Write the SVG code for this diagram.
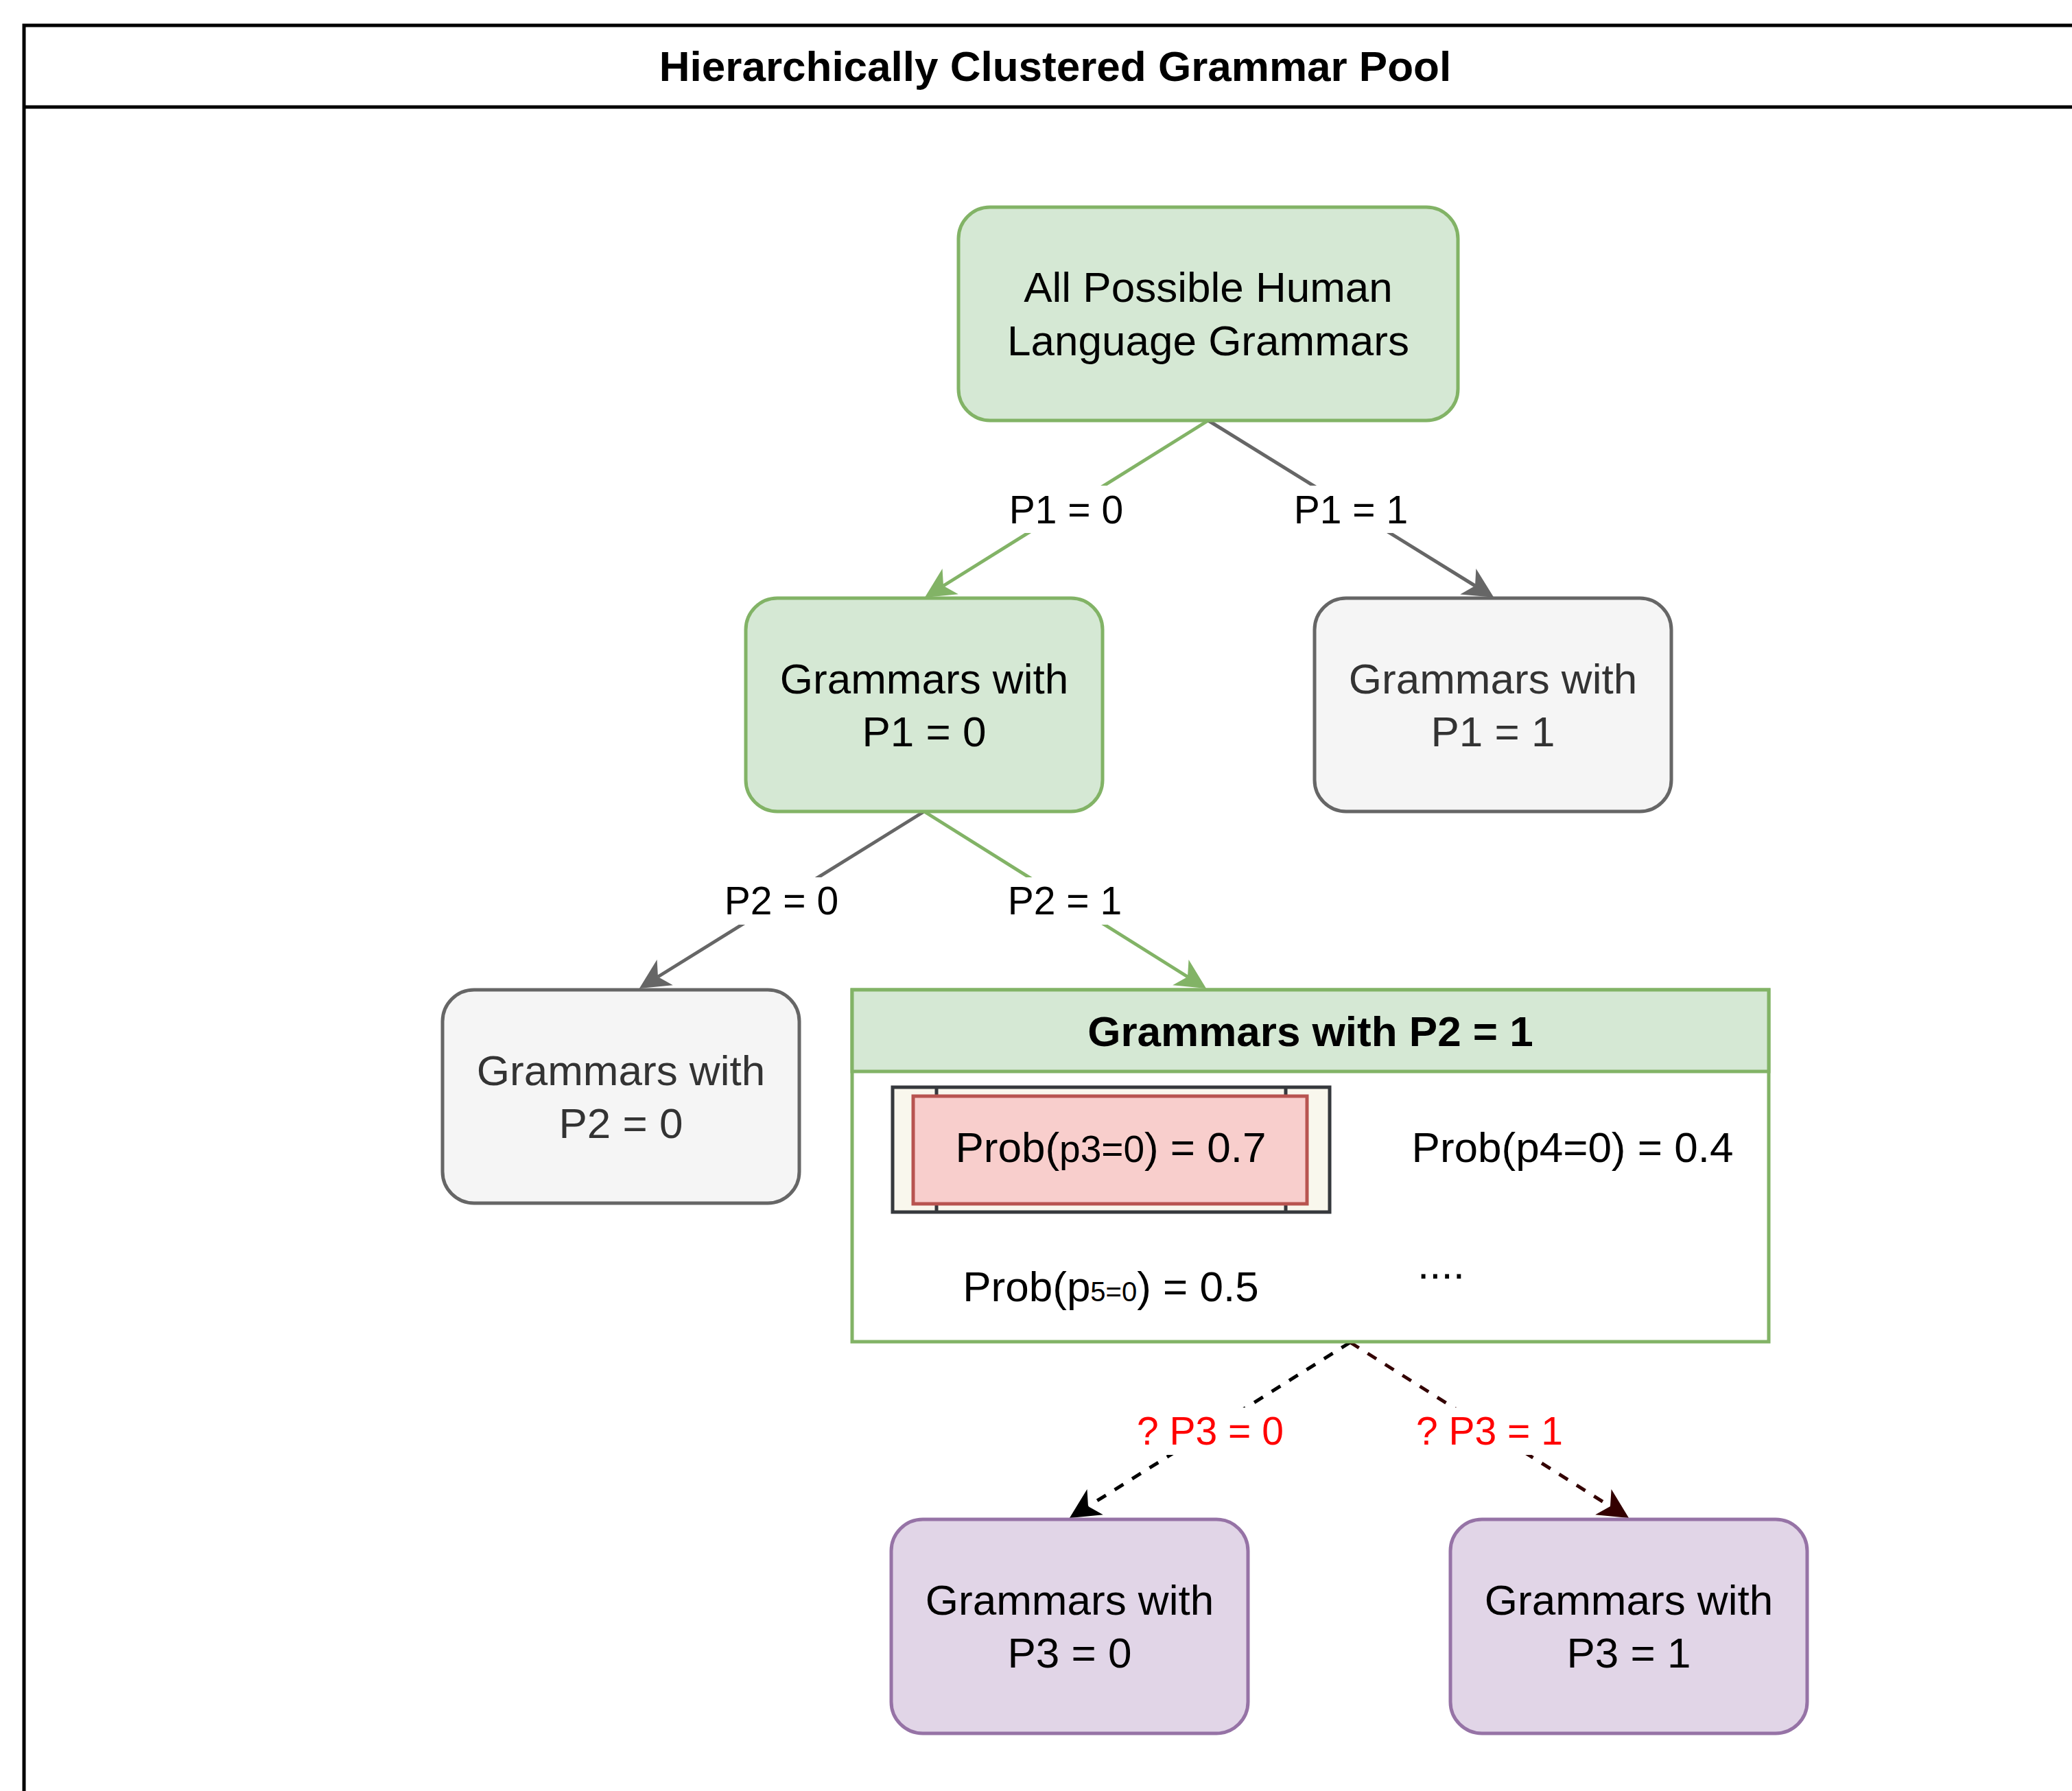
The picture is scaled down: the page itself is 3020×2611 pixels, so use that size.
<svg xmlns="http://www.w3.org/2000/svg" width="3020" height="2611" viewBox="0 0 3020 2611">
<defs>
<style>
text{font-family:"Liberation Sans",Arial,Helvetica,sans-serif;}
.t{font-size:62px;text-anchor:middle;fill:#000000}
.tl{font-size:62px;fill:#000000}
.g{fill:#333333}
.b{font-weight:bold}
.lbl{font-size:57px;text-anchor:middle;fill:#000000}
.red{fill:#ff0000}
.lb{fill:#ffffff;stroke:none}
.green{fill:#d5e8d4;stroke:#82b366;stroke-width:5}
.grey{fill:#f5f5f5;stroke:#666666;stroke-width:5}
.purple{fill:#e1d5e7;stroke:#9673a6;stroke-width:5}
.e{fill:none;stroke-width:5}
.dash{stroke-dasharray:15 15}
</style>
<marker id="aG" markerUnits="userSpaceOnUse" viewBox="0 -23 46 46" refX="12" refY="0" markerWidth="46" markerHeight="46" orient="auto"><path d="M0,-22 L44,0 L0,22 L12,0 Z" fill="#82b366"/></marker>
<marker id="aY" markerUnits="userSpaceOnUse" viewBox="0 -23 46 46" refX="12" refY="0" markerWidth="46" markerHeight="46" orient="auto"><path d="M0,-22 L44,0 L0,22 L12,0 Z" fill="#666666"/></marker>
<marker id="aK" markerUnits="userSpaceOnUse" viewBox="0 -23 46 46" refX="12" refY="0" markerWidth="46" markerHeight="46" orient="auto"><path d="M0,-22 L44,0 L0,22 L12,0 Z" fill="#000000"/></marker>
<marker id="aR" markerUnits="userSpaceOnUse" viewBox="0 -23 46 46" refX="12" refY="0" markerWidth="46" markerHeight="46" orient="auto"><path d="M0,-22 L44,0 L0,22 L12,0 Z" fill="#330000"/></marker>
</defs>
<rect x="0" y="0" width="3020" height="2611" fill="#ffffff"/>
<g id="pool">
<rect x="35" y="37" width="3006" height="2620" fill="#ffffff" stroke="#000000" stroke-width="5"/>
<line x1="35" y1="156" x2="3041" y2="156" stroke="#000000" stroke-width="5"/>
<text class="t b" x="1538" y="118">Hierarchically Clustered Grammar Pool</text>
</g>
<g id="connectors">
<path class="e" stroke="#82b366" d="M1761,613 L1375,854" marker-end="url(#aG)"/>
<path class="e" stroke="#666666" d="M1761,613 L2150,854" marker-end="url(#aY)"/>
<path class="e" stroke="#666666" d="M1347,1183 L959,1424" marker-end="url(#aY)"/>
<path class="e" stroke="#82b366" d="M1347,1183 L1731,1424" marker-end="url(#aG)"/>
<path class="e dash" stroke="#000000" d="M1968,1957 L1586,2196" marker-end="url(#aK)"/>
<path class="e dash" stroke="#330000" d="M1968,1957 L2347,2196" marker-end="url(#aR)"/>
<g id="labels">
<rect class="lb" x="1468" y="708" width="172" height="69"/>
<text class="lbl" x="1554" y="763">P1 = 0</text>
<rect class="lb" x="1883" y="708" width="172" height="69"/>
<text class="lbl" x="1969" y="763">P1 = 1</text>
<rect class="lb" x="1053" y="1279" width="172" height="69"/>
<text class="lbl" x="1139" y="1333">P2 = 0</text>
<rect class="lb" x="1466" y="1279" width="172" height="69"/>
<text class="lbl" x="1552" y="1333">P2 = 1</text>
<rect class="lb" x="1652" y="2052" width="224" height="69"/>
<text class="lbl red" x="1764" y="2106">? P3 = 0</text>
<rect class="lb" x="2059" y="2052" width="224" height="69"/>
<text class="lbl red" x="2171" y="2106">? P3 = 1</text>
</g>
</g>
<g id="root">
<rect class="green" x="1397" y="302" width="728" height="311" rx="46" ry="46"/>
<text class="t" x="1761" y="440">All Possible Human</text>
<text class="t" x="1761" y="518">Language Grammars</text>
</g>
<g id="p1zero">
<rect class="green" x="1087" y="872" width="520" height="311" rx="46" ry="46"/>
<text class="t" x="1347" y="1011">Grammars with</text>
<text class="t" x="1347" y="1088">P1 = 0</text>
</g>
<g id="p1one">
<rect class="grey" x="1916" y="872" width="520" height="311" rx="46" ry="46"/>
<text class="t g" x="2176" y="1011">Grammars with</text>
<text class="t g" x="2176" y="1088">P1 = 1</text>
</g>
<g id="p2zero">
<rect class="grey" x="645" y="1443" width="520" height="311" rx="46" ry="46"/>
<text class="t g" x="905" y="1582">Grammars with</text>
<text class="t g" x="905" y="1659">P2 = 0</text>
</g>
<g id="p2one">
<rect x="1242" y="1443" width="1336" height="513" fill="#ffffff" stroke="#82b366" stroke-width="5"/>
<rect x="1242" y="1443" width="1336" height="119" fill="#d5e8d4" stroke="#82b366" stroke-width="5"/>
<text class="t b" x="1910" y="1525">Grammars with P2 = 1</text>
<g id="prob3">
<rect x="1301" y="1585" width="637" height="182" fill="#f9f7ed" stroke="#36393d" stroke-width="5"/>
<line x1="1365" y1="1585" x2="1365" y2="1767" stroke="#36393d" stroke-width="5"/>
<line x1="1874" y1="1585" x2="1874" y2="1767" stroke="#36393d" stroke-width="5"/>
<rect x="1331" y="1598" width="574" height="157" fill="#f8cecc" stroke="#b85450" stroke-width="5"/>
<text class="t" x="1619" y="1694">Prob(<tspan font-size="55">p3=0</tspan>) = 0.7</text>
</g>
<text class="t" x="2292" y="1694">Prob(p4=0) = 0.4</text>
<text class="t" x="1619" y="1897">Prob(p<tspan font-size="40">5=0</tspan>) = 0.5</text>
<text class="tl" x="2066" y="1864">....</text>
</g>
<g id="p3zero">
<rect class="purple" x="1299" y="2215" width="520" height="312" rx="46" ry="46"/>
<text class="t" x="1559" y="2354">Grammars with</text>
<text class="t" x="1559" y="2431">P3 = 0</text>
</g>
<g id="p3one">
<rect class="purple" x="2114" y="2215" width="520" height="312" rx="46" ry="46"/>
<text class="t" x="2374" y="2354">Grammars with</text>
<text class="t" x="2374" y="2431">P3 = 1</text>
</g>
</svg>
